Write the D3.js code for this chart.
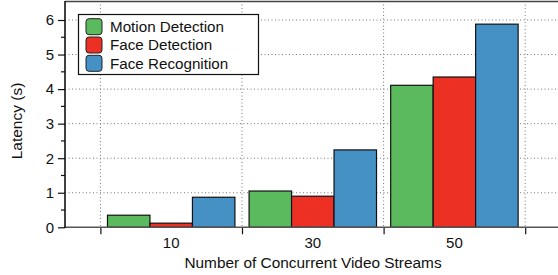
<!DOCTYPE html>
<html><head><meta charset="utf-8">
<script src="https://cdn.jsdelivr.net/npm/d3@7"></script>
<style>body{margin:0;background:#fff}svg{display:block}text{font-family:"Liberation Sans",Arial,sans-serif;fill:#111}</style>
</head><body><svg id="c" width="558" height="275"></svg>
<script>
const categories = [10, 30, 50];
const series = ["Motion Detection", "Face Detection", "Face Recognition"];
const motion = [0.35, 1.05, 4.11];
const faceDet = [0.12, 0.90, 4.35];
const faceRec = [0.87, 2.24, 5.88];
const yTicks = [0, 1, 2, 3, 4, 5, 6];
const xTicks = [0, 20, 40, 60];
const colors = ["#5cba5e", "#ec3124", "#4591c6"];
const values = [motion, faceDet, faceRec];

const svg = d3.select("#c");
const x = d3.scaleLinear().domain([-5, 65]).range([65, 560.6]);
const y = d3.scaleLinear().domain([0, 6.55]).range([227.3, 1]);
const barW = 6;

// grid
svg.append("g").selectAll("line").data(yTicks.filter(d => d > 0)).join("line")
  .attr("x1", 65).attr("x2", 558).attr("y1", d => y(d)).attr("y2", d => y(d))
  .attr("stroke", "#777").attr("stroke-width", 1).attr("stroke-dasharray", "1,2.5");
svg.append("g").selectAll("line").data(xTicks).join("line")
  .attr("x1", d => x(d)).attr("x2", d => x(d)).attr("y1", y(6.55)).attr("y2", y(0))
  .attr("stroke", "#777").attr("stroke-width", 1).attr("stroke-dasharray", "1,2.5");

// bars
const flat = [];
categories.forEach((c, i) => series.forEach((s, j) => flat.push({c, j, v: values[j][i]})));
svg.append("g").selectAll("rect").data(flat).join("rect")
  .attr("x", d => x(d.c - 9 + d.j * barW))
  .attr("width", d => x(barW) - x(0))
  .attr("y", d => y(d.v))
  .attr("height", d => y(0) - y(d.v))
  .attr("fill", d => colors[d.j])
  .attr("stroke", "#111").attr("stroke-width", 1.2);

// top border
svg.append("line").attr("x1", 65).attr("x2", 558).attr("y1", y(6.55)+0.5).attr("y2", y(6.55)+0.5)
  .attr("stroke", "#444").attr("stroke-width", 1.5);

// x axis
const xAxis = d3.axisBottom(x).tickValues(xTicks).tickSize(7).tickFormat("");
const gx = svg.append("g").attr("transform", `translate(0,${y(0)})`).call(xAxis);
gx.select(".domain").remove();
gx.selectAll(".tick line").attr("stroke", "#111").attr("stroke-width", 1.2);
svg.append("line").attr("x1", 65).attr("x2", 558).attr("y1", y(0)).attr("y2", y(0))
  .attr("stroke", "#555").attr("stroke-width", 1.5);
svg.append("g").selectAll("text").data(categories).join("text")
  .attr("x", d => x(d)).attr("y", 248).attr("text-anchor", "middle")
  .attr("font-size", 15).text(d => d);

// y axis
const yAxis = d3.axisLeft(y).tickValues(yTicks).tickSize(7).tickPadding(4).tickFormat(d3.format("d"));
const gy = svg.append("g").attr("transform", "translate(65,0)").call(yAxis);
gy.select(".domain").remove();
gy.selectAll(".tick line").attr("stroke", "#111").attr("stroke-width", 1.2);
gy.selectAll(".tick text").attr("font-size", 15).attr("font-family", '"Liberation Sans",Arial,sans-serif').attr("fill", "#111");
const minor = d3.range(0.5, 6.5, 1);
svg.append("g").selectAll("line").data(minor).join("line")
  .attr("x1", 61).attr("x2", 65).attr("y1", d => y(d)).attr("y2", d => y(d))
  .attr("stroke", "#111").attr("stroke-width", 1.2);
svg.append("line").attr("x1", 65).attr("x2", 65).attr("y1", y(6.55)).attr("y2", y(0)+0.7)
  .attr("stroke", "#111").attr("stroke-width", 1.6);

// axis labels
svg.append("text").attr("transform", "translate(22,121) rotate(-90)")
  .attr("text-anchor", "middle").attr("font-size", 15.5).text("Latency (s)");
svg.append("text").attr("x", 313).attr("y", 267.5).attr("text-anchor", "middle")
  .attr("font-size", 15.4).text("Number of Concurrent Video Streams");

// legend
const lg = svg.append("g");
lg.append("rect").attr("x", 78.5).attr("y", 14.5).attr("width", 180).attr("height", 60)
  .attr("fill", "#fff").attr("stroke", "#111").attr("stroke-width", 1.2);
const rows = lg.selectAll("g").data(series).join("g")
  .attr("transform", (d, i) => `translate(0,${26.7 + i * 18.3})`);
rows.append("rect").attr("x", 86).attr("y", -8).attr("width", 16).attr("height", 16)
  .attr("rx", 3).attr("fill", (d, i) => colors[i]).attr("stroke", "#222").attr("stroke-width", 1);
rows.append("text").attr("x", 110).attr("y", 5.3).attr("font-size", 15.2).text(d => d);
</script></body></html>
